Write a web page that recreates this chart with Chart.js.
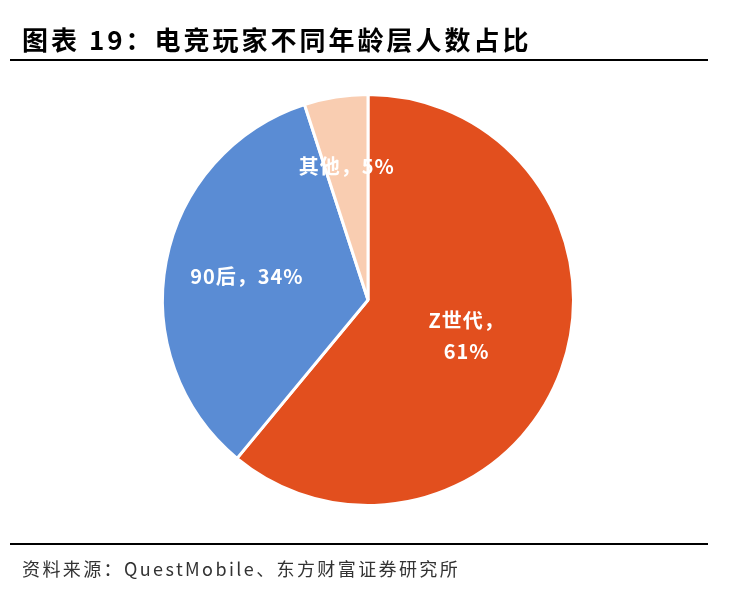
<!DOCTYPE html>
<html>
<head>
<meta charset="utf-8">
<script src="https://cdn.jsdelivr.net/npm/chart.js@4.4.0/dist/chart.umd.min.js"></script>
<style>
  html, body { margin: 0; padding: 0; background: #fff; }
  #wrap { width: 732px; height: 600px; position: relative; }
</style>
</head>
<body>
<div id="wrap"><canvas id="pieChart" width="732" height="600"></canvas></div>
<script>
const titleText = '图表 19：电竞玩家不同年龄层人数占比';
const sourceText = '资料来源：QuestMobile、东方财富证券研究所';

// categories and shares (%)
const labels = ['Z世代', '90后', '其他'];
const values = [61, 34, 5];
const colors = ['#E24F1E', '#5A8CD4', '#F9CDB1'];

// label placement: fraction of radius along mid-angle, plus line breaks
const labelRadius = [0.51, 0.6, 0.66];
const labelLines = [['Z世代，', '61%'], ['90后，34%'], ['其他，5%']];

const ctx = document.getElementById('pieChart').getContext('2d');

// title, rules and source text
const decorations = {
  id: 'decorations',
  beforeDraw(chart) {
    const c = chart.ctx;
    c.save();
    c.fillStyle = '#fff';
    c.fillRect(0, 0, chart.width, chart.height);
    c.fillStyle = '#000';
    c.textBaseline = 'middle';
    c.font = 'bold 26px "Noto Sans CJK SC"';
    c.letterSpacing = '3px';
    c.fillText(titleText, 22, 40);
    c.fillRect(10, 59, 698, 2);
    c.fillRect(10, 543, 698, 2);
    c.fillStyle = '#333';
    c.font = '18px "Noto Sans CJK SC"';
    c.letterSpacing = '2.4px';
    c.fillText(sourceText, 22, 569);
    c.restore();
  },
  afterDatasetsDraw(chart) {
    const c = chart.ctx;
    const meta = chart.getDatasetMeta(0);
    c.save();
    c.fillStyle = '#fff';
    c.textAlign = 'center';
    c.textBaseline = 'middle';
    c.font = 'bold 20px "Noto Sans CJK SC"';
    c.letterSpacing = '1px';
    meta.data.forEach((arc, i) => {
      const p = arc.getProps(['x', 'y', 'startAngle', 'endAngle', 'outerRadius']);
      const mid = (p.startAngle + p.endAngle) / 2;
      const r = p.outerRadius * labelRadius[i];
      const x = p.x + Math.cos(mid) * r;
      const y = p.y + Math.sin(mid) * r;
      const lines = labelLines[i];
      const lh = 31;
      lines.forEach((t, j) => {
        c.fillText(t, x, y + (j - (lines.length - 1) / 2) * lh);
      });
    });
    c.restore();
  }
};

new Chart(ctx, {
  type: 'pie',
  data: {
    labels: labels,
    datasets: [{
      data: values,
      backgroundColor: colors,
      borderColor: '#fff',
      borderWidth: 3
    }]
  },
  options: {
    responsive: false,
    animation: false,
    layout: {
      padding: { top: 93, bottom: 93, left: 161, right: 157 }
    },
    plugins: {
      legend: { display: false },
      tooltip: { enabled: false }
    }
  },
  plugins: [decorations]
});
</script>
</body>
</html>
